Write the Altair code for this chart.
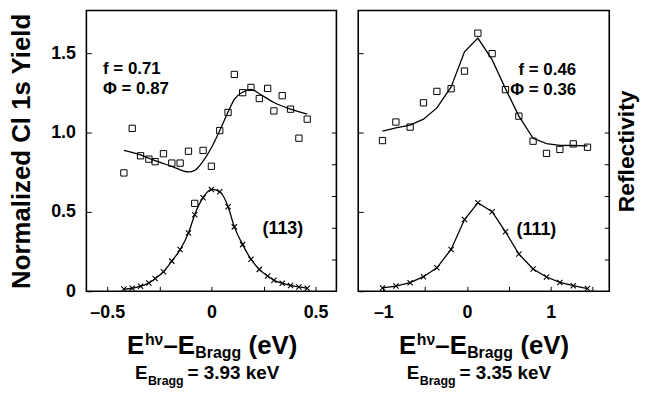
import altair as alt
import pandas as pd

FONT = "Liberation Sans"
YMAX = 1.77

# ---------------- (113) panel, E_Bragg = 3.93 keV ----------------
l_energy = [-0.42, -0.38, -0.34, -0.30, -0.27, -0.23, -0.19, -0.15, -0.11, -0.08,
            -0.04, 0.00, 0.04, 0.08, 0.11, 0.15, 0.19, 0.23, 0.27, 0.30,
            0.34, 0.38, 0.42, 0.46]
l_yield = [0.746, 1.027, 0.854, 0.833, 0.817, 0.867, 0.808, 0.808, 0.883, 0.554,
           0.888, 0.788, 1.013, 1.127, 1.367, 1.252, 1.285, 1.215, 1.279, 1.137,
           1.233, 1.148, 0.965, 1.085]
l_refl = [0.014, 0.019, 0.032, 0.052, 0.08, 0.123, 0.19, 0.263, 0.367, 0.483,
          0.59, 0.642, 0.627, 0.533, 0.406, 0.294, 0.202, 0.138, 0.096, 0.069,
          0.051, 0.037, 0.027, 0.019]
l_fit_energy = [-0.42, -0.34, -0.27, -0.19, -0.11, -0.08, -0.04, 0.00, 0.04, 0.08,
                0.11, 0.15, 0.19, 0.23, 0.30, 0.38, 0.46]
l_fit_yield = [0.888, 0.86, 0.823, 0.788, 0.752, 0.762, 0.82, 0.905, 1.013, 1.13,
               1.21, 1.255, 1.273, 1.245, 1.19, 1.148, 1.117]
l_labels = ["f = 0.71", "\u03a6 = 0.87"]
l_label_e = [-0.52, -0.52]
l_label_v = [1.369, 1.244]
l_refl_label = "(113)"
l_bragg = "= 3.93 keV"

# ---------------- (111) panel, E_Bragg = 3.35 keV ----------------
r_energy = [-1.01, -0.85, -0.68, -0.52, -0.36, -0.19, -0.03, 0.13, 0.30, 0.46,
            0.62, 0.79, 0.95, 1.11, 1.27, 1.44]
r_yield = [0.95, 1.067, 1.035, 1.188, 1.26, 1.277, 1.388, 1.627, 1.498, 1.271,
           1.104, 0.946, 0.869, 0.894, 0.929, 0.908]
r_fit_yield = [1.01, 1.03, 1.048, 1.085, 1.156, 1.288, 1.51, 1.596, 1.46, 1.277,
               1.104, 0.964, 0.931, 0.92, 0.919, 0.917]
r_refl = [0.021, 0.033, 0.054, 0.092, 0.148, 0.264, 0.452, 0.558, 0.502, 0.375,
          0.235, 0.14, 0.09, 0.056, 0.035, 0.017]
r_labels = ["f = 0.46", "\u03a6 = 0.36"]
r_label_e = [1.305, 1.305]
r_label_v = [1.3625, 1.2375]
r_refl_label = "(111)"
r_bragg = "= 3.35 keV"

title_parts = ["E", "h\u03bd", "\u2013E", "Bragg", "(eV)"]
bragg_parts = ["E", "Bragg"]

# layout (pixels relative to each plot area)
TITLE_X = [41, 59, 77.7, 109.8, 163.5]
TITLE_Y = [346, 337, 346, 350, 346]
TITLE_FS = [26, 16, 26, 16, 26]
BR_X = [49, 62, 102]
BR_Y = [371, 377, 371]
BR_FS = [19, 12.5, 19]

BLACK = "black"


def x_enc(domain, values, expr):
    return alt.X(
        "e:Q",
        scale=alt.Scale(domain=domain, nice=False, zero=False),
        axis=alt.Axis(values=values, labelExpr=expr, title=None, grid=False, domain=False,
                      tickSize=5, offset=-5, tickColor=BLACK, tickWidth=1,
                      labelFont=FONT, labelFontSize=18, labelFontWeight="bold",
                      labelColor=BLACK, labelPadding=12, labelFlush=False,
                      labelOverlap=False),
    )


def y_left(labels, title):
    ax = dict(values=[0, 0.5, 1.0, 1.5], grid=False, domain=False, tickSize=5, offset=-5,
              tickColor=BLACK, tickWidth=1)
    if labels:
        ax.update(labelExpr="datum.value == 0 ? '0' : format(datum.value, '.1f')",
                  labelFont=FONT, labelFontSize=18, labelFontWeight="bold",
                  labelColor=BLACK, labelPadding=11, labelOverlap=False, labelFlush=False)
    else:
        ax.update(labels=False)
    if title:
        ax.update(title=title, titleFont=FONT, titleFontSize=26, titleFontWeight="bold",
                  titleColor=BLACK, titlePadding=16)
    else:
        ax.update(title=None)
    return alt.Y("y:Q", scale=alt.Scale(domain=[0, YMAX], nice=False, zero=False),
                 axis=alt.Axis(**ax))


def y_right(title):
    ax = dict(orient="right", values=[0.2, 0.4, 0.6, 0.8, 1.0], grid=False, domain=False,
              tickSize=5, offset=-5, tickColor=BLACK, tickWidth=1, labels=False)
    if title:
        ax.update(title=title, titleFont=FONT, titleFontSize=23, titleFontWeight="bold",
                  titleColor=BLACK, titlePadding=6, titleAngle=270, titleBaseline="top")
    else:
        ax.update(title=None)
    return alt.Y("y:Q", scale=alt.Scale(domain=[0, YMAX], nice=False, zero=False),
                 axis=alt.Axis(**ax))


def text_piece(txt, x, y, fs):
    return alt.Chart(pd.DataFrame({"t": [txt]})).mark_text(
        align="left", baseline="alphabetic", font=FONT, fontWeight="bold",
        fontSize=fs, color=BLACK
    ).encode(x=alt.value(x), y=alt.value(y), text="t:N")


def panel(energy, yld, refl, fit_e, fit_y, fit_interp, labels, lab_e, lab_v, lab_align,
          refl_label, refl_pos, bragg_txt, xdom, xvals, xexpr, width, left_labels,
          left_title, right_title):
    X = x_enc(xdom, xvals, xexpr)
    YL = y_left(left_labels, left_title)
    YR = y_right(right_title)
    pts = pd.DataFrame({"e": energy, "y": yld})
    fit = pd.DataFrame({"e": fit_e, "y": fit_y})
    rdf = pd.DataFrame({"e": energy, "y": refl})
    lab = pd.DataFrame({"e": lab_e, "y": lab_v, "t": labels})
    rl = pd.DataFrame({"e": [refl_pos[0]], "y": [refl_pos[1]], "t": [refl_label]})

    squares = alt.Chart(pts).mark_point(shape="square", filled=False, size=40,
                                        color=BLACK, strokeWidth=1, opacity=1).encode(x=X, y=YL)
    fitline = alt.Chart(fit).mark_line(color=BLACK, strokeWidth=1.3,
                                       interpolate=fit_interp).encode(x=X, y=YL)
    ftext = alt.Chart(lab).mark_text(align=lab_align, baseline="alphabetic", font=FONT,
                                     fontWeight="bold", fontSize=17, color=BLACK
                                     ).encode(x=X, y=YL, text="t:N")
    rtext = alt.Chart(rl).mark_text(align="center", baseline="middle", font=FONT,
                                    fontWeight="bold", fontSize=18, color=BLACK
                                    ).encode(x=X, y=YL, text="t:N")
    pieces = [text_piece(t, x, y, fs) for t, x, y, fs in zip(title_parts, TITLE_X, TITLE_Y, TITLE_FS)]
    bparts = bragg_parts + [bragg_txt]
    pieces += [text_piece(t, x, y, fs) for t, x, y, fs in zip(bparts, BR_X, BR_Y, BR_FS)]
    layer_a = alt.layer(fitline, squares, ftext, rtext, *pieces)

    rline = alt.Chart(rdf).mark_line(color=BLACK, strokeWidth=1.3,
                                     interpolate=fit_interp).encode(x=X, y=YR)
    crosses = alt.Chart(rdf).mark_point(shape="M-1,-1L1,1M-1,1L1,-1", filled=False, size=28,
                                        color=BLACK, strokeWidth=1.1, opacity=1
                                        ).encode(x=X, y=YR)
    layer_b = alt.layer(rline, crosses)
    return alt.layer(layer_a, layer_b).resolve_scale(y="independent").properties(
        width=width, height=283)


left_expr = ("abs(datum.value % 0.5) < 0.001 ? (datum.value < 0 ? '\u2013' + format(-datum.value, '.1f')"
             " : (datum.value == 0 ? '0' : format(datum.value, '.1f'))) : ''")
right_expr = ("abs(datum.value % 1) < 0.001 ? (datum.value < 0 ? '\u2013' + format(-datum.value, 'd')"
              " : format(datum.value, 'd')) : ''")

left = panel(l_energy, l_yield, l_refl, l_fit_energy, l_fit_yield, "monotone",
             l_labels, l_label_e, l_label_v, "left", l_refl_label, (0.343, 0.394),
             l_bragg, [-0.6, 0.6], [-0.5, -0.25, 0, 0.25, 0.5], left_expr, 252,
             True, "Normalized Cl 1s Yield", None)

right = panel(r_energy, r_yield, r_refl, r_energy, r_fit_yield, "linear",
              r_labels, r_label_e, r_label_v, "right", r_refl_label, (0.83, 0.3875),
              r_bragg, [-1.3, 1.7], [-1, -0.5, 0, 0.5, 1, 1.5], right_expr, 253,
              False, None, "Reflectivity")

chart = alt.hconcat(left, right, spacing=18).configure_view(
    stroke=BLACK, strokeWidth=1.6
).properties(padding=0, background="white")

chart.save("out.html", embed_options={"renderer": "svg", "actions": False})
